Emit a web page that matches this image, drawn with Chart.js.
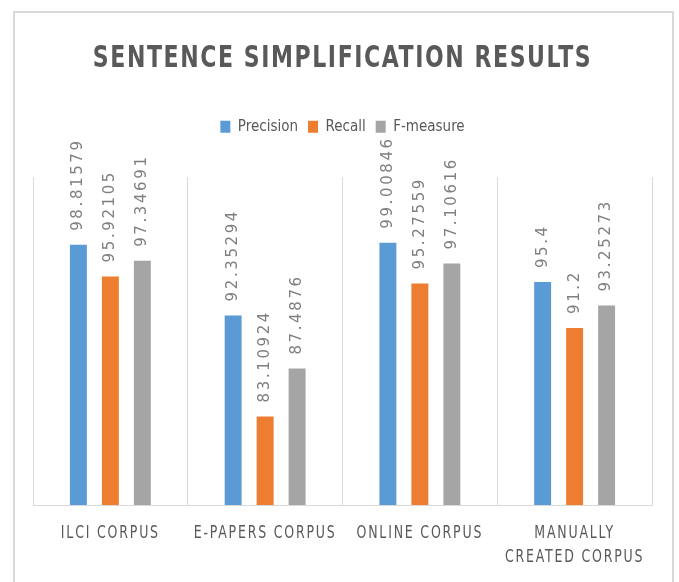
<!DOCTYPE html>
<html>
<head>
<meta charset="utf-8">
<script src="https://cdn.jsdelivr.net/npm/chart.js@4"></script>
<style>
  html, body { margin: 0; padding: 0; background: #fff; overflow: hidden; }
  #frame { position: absolute; left: 13px; top: 11px; width: 657px; height: 620px; border: 2px solid #d9d9d9; }
  #chart { position: absolute; left: 0; top: 0; }
</style>
</head>
<body>
<div id="frame"></div>
<canvas id="chart" width="679" height="582"></canvas>
<script>
const categories = ["ILCI CORPUS", "E-PAPERS CORPUS", "ONLINE CORPUS", ["MANUALLY", "CREATED CORPUS"]];
const precision = [98.81579, 92.35294, 99.00846, 95.4];
const recall = [95.92105, 83.10924, 95.27559, 91.2];
const fMeasure = [97.34691, 87.4876, 97.10616, 93.25273];
const seriesNames = ["Precision", "Recall", "F-measure"];
const yMin = 75, yMax = 105;

const narrow = '"Liberation Sans Narrow", "DejaVu Sans Condensed", sans-serif';

// the original uses a tall narrow font with spaced letters:
// squeeze the title and category labels sideways around their own x
const spacing = {
  id: "spacing",
  afterInit(chart) {
    const legend = chart.legend;
    const fit = legend.fit;
    legend.fit = function() {
      fit.call(this);
      this.height += 33; // gap between legend and plot
    };
  },
  beforeDraw(chart) {
    if (chart.$spaced) return;
    chart.$spaced = true;
    const wrap = (obj, name, ls, sx) => {
      const orig = obj[name];
      obj[name] = function(...args) {
        const ctx = chart.ctx;
        const fill = ctx.fillText;
        ctx.save();
        ctx.letterSpacing = ls;
        ctx.fillText = function(text, x, y) {
          ctx.save();
          ctx.translate(x, y);
          ctx.scale(sx, 1);
          fill.call(ctx, text, 0, 0);
          ctx.restore();
        };
        orig.apply(this, args);
        ctx.fillText = fill;
        ctx.restore();
      };
    };
    wrap(chart.titleBlock, "draw", "2px", 0.79);
    wrap(chart.scales.x, "drawLabels", "2.2px", 0.82);
  }
};

// rotated value labels above each bar
const barValues = {
  id: "barValues",
  afterDatasetsDraw(chart) {
    const ctx = chart.ctx;
    chart.data.datasets.forEach((ds, i) => {
      const meta = chart.getDatasetMeta(i);
      meta.data.forEach((bar, j) => {
        ctx.save();
        ctx.translate(bar.x, bar.y - 14);
        ctx.rotate(-Math.PI / 2);
        ctx.font = '15px "DejaVu Sans", sans-serif';
        ctx.letterSpacing = "2.6px";
        ctx.fillStyle = "#7f7f7f";
        ctx.textAlign = "left";
        ctx.textBaseline = "middle";
        ctx.fillText(String(ds.data[j]), 0, 0);
        ctx.restore();
      });
    });
  }
};

new Chart(document.getElementById("chart"), {
  type: "bar",
  data: {
    labels: categories,
    datasets: [
      { label: seriesNames[0], data: precision, backgroundColor: "#5B9BD5" },
      { label: seriesNames[1], data: recall, backgroundColor: "#ED7D31" },
      { label: seriesNames[2], data: fMeasure, backgroundColor: "#A5A5A5" }
    ]
  },
  options: {
    responsive: false,
    animation: false,
    categoryPercentage: 0.62,
    barPercentage: 0.53,
    layout: { padding: { left: 33, right: 27, top: 0, bottom: 0 } },
    plugins: {
      title: {
        display: true,
        text: "SENTENCE SIMPLIFICATION RESULTS",
        color: "#595959",
        font: { family: narrow, size: 31, weight: "bold" },
        padding: { top: 40, bottom: 32 }
      },
      legend: {
        display: true,
        labels: {
          color: "#595959",
          font: { family: narrow, size: 15 },
          boxWidth: 10,
          boxHeight: 12,
          padding: 10
        }
      },
      tooltip: { enabled: false }
    },
    scales: {
      x: {
        grid: { offset: true, color: "#d9d9d9", drawTicks: false, lineWidth: 1 },
        border: { color: "#d9d9d9", width: 1 },
        ticks: {
          color: "#595959",
          font: { family: narrow, size: 17, lineHeight: 1.4 },
          padding: 17,
          autoSkip: false,
          maxRotation: 0
        },
        afterFit(scale) { scale.height = 77; }
      },
      y: { display: false, min: yMin, max: yMax }
    }
  },
  plugins: [spacing, barValues]
});
</script>
</body>
</html>
